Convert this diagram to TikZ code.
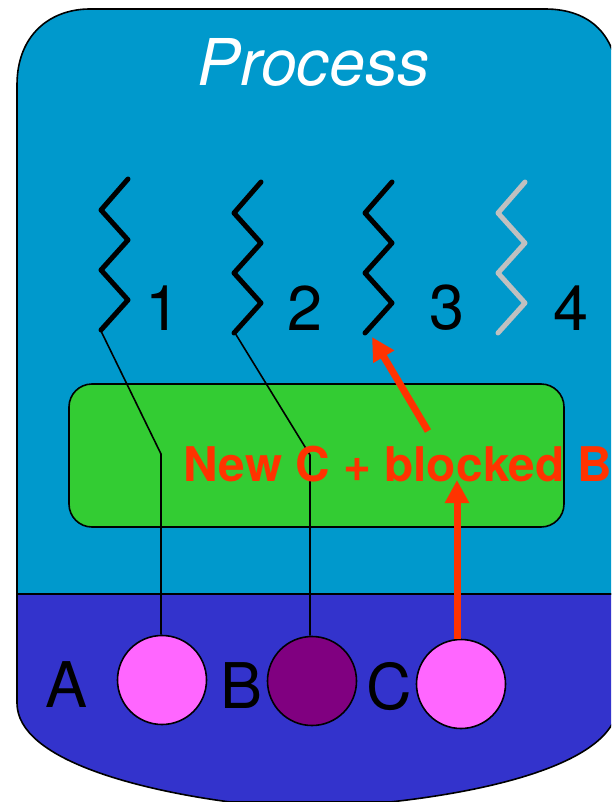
\documentclass[tikz,border=0pt]{standalone}
\usepackage{fontspec}
\setmainfont{TeX Gyre Heros}
\usepackage{xcolor}
\usetikzlibrary{arrows.meta}
\definecolor{procblue}{HTML}{0099CC}
\definecolor{lowblue}{HTML}{3333CC}
\definecolor{boxgreen}{HTML}{33CC33}
\definecolor{regpink}{HTML}{FF66FF}
\definecolor{regpurple}{HTML}{800080}
\definecolor{redarrow}{HTML}{FF3300}
\definecolor{idlegray}{HTML}{C0C0C0}
\tikzset{
    zigzag/.style={line width=5pt, line cap=round, line join=round},
    reg/.style={circle, draw, line width=1.6pt, minimum size=89pt, inner sep=0pt},
    biglabel/.style={font=\fontsize{63}{63}\selectfont, inner sep=0pt},
    outline/.style={draw, line width=1.6pt},
    link/.style={line width=1.6pt},
    redline/.style={draw=redarrow, line width=7pt, -{Triangle[length=23pt,width=23pt]}}
}

\begin{document}
\begin{tikzpicture}[x=1pt, y=-1pt]
    \clip (0,0) rectangle (611,802);

    % process body
    \draw[outline, fill=procblue] (17,594) -- (17,85)
        .. controls (17,35) and (50,9) .. (90,9) -- (545,9)
        .. controls (590,9) and (618,35) .. (618,85) -- (618,594) -- cycle;
    \draw[outline, fill=lowblue] (17,594) -- (17,703)
        .. controls (17,760) and (140,790) .. (230,802) -- (390,802)
        .. controls (500,790) and (618,760) .. (618,703) -- (618,594) -- cycle;
    \draw[outline, fill=boxgreen, rounded corners=23pt] (69,384) rectangle (564,527);

    \node[biglabel, text=white, font=\itshape\fontsize{64.5}{64.5}\selectfont] (title) at (313.5,62) {Process};

    % threads
    \foreach \x/\y/\c in {
        101/-2/black, 234/1/black, 365/1/black, 498/1/idlegray}
        \draw[zigzag, draw=\c]
        (\x+27,\y+181) -- (\x,\y+212) -- (\x+27,\y+242) -- (\x,\y+272) -- (\x+27,\y+302) -- (\x,\y+332);

    \foreach \n/\x/\m in {
        one/163/1, two/305/2, three/447/3, four/571/4}
        \node[biglabel] (\n) at (\x,308) {\m};

    % registers
    \node[biglabel] (A) at (67,685) {A};
    \node[biglabel] (B) at (242,686) {B};
    \node[biglabel] (C) at (389,687) {C};
    \node[reg, fill=regpink] (regA) at (162,680) {};
    \node[reg, fill=regpurple] (regB) at (312,681) {};
    \node[reg, fill=regpink] (regC) at (461,684) {};

    \coordinate (endone) at (101,331);
    \coordinate (endtwo) at (235,333);
    \coordinate (endthree) at (372,337);
    \coordinate (bendone) at (161,454);
    \coordinate (bendtwo) at (310,455);
    \coordinate (tipC) at (457,480);
    \coordinate (tailthree) at (428,431);

    \draw[link] (endone) -- (bendone) -- (bendone |- regA.north);
    \draw[link] (endtwo) -- (bendtwo) -- (bendtwo |- regB.north);

    \node[font=\bfseries\fontsize{47.8}{47.8}\selectfont, text=redarrow, anchor=base west, inner sep=0pt] (note) at (183,481) {New C + blocked B};

    \draw[redline] (tailthree) -- (endthree);
    \draw[redline] (tipC |- regC.north) -- (tipC);
\end{tikzpicture}
\end{document}
